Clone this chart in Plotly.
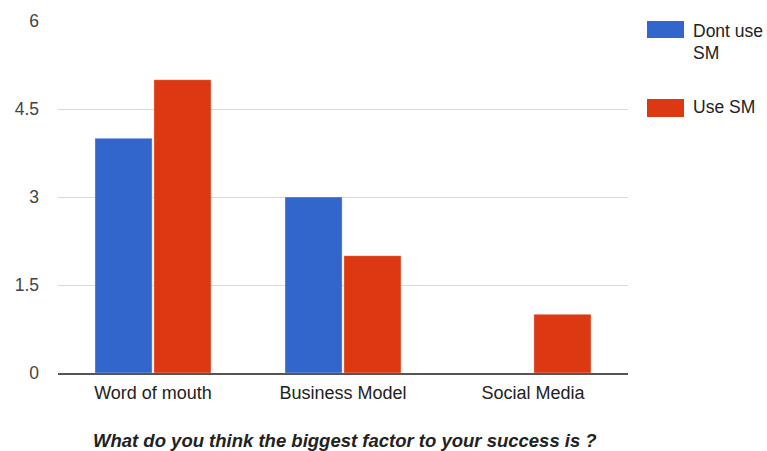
import plotly.graph_objects as go

# Survey responses grouped by the factor named as most important
categories = ["Word of mouth", "Business Model", "Social Media"]
dont_use_sm = [4, 3, 0]
use_sm = [5, 2, 1]
series_names = ["Dont use SM", "Use SM"]
y_ticks = [0, 1.5, 3, 4.5, 6]
y_tick_text = ["0", "1.5", "3", "4.5", "6"]

BLUE = "#3366CC"
RED = "#DC3912"
FONT = "Liberation Sans, Arial, sans-serif"
TEXT_SIZE = 17.5

fig = go.Figure()
fig.add_trace(go.Bar(
    x=categories, y=dont_use_sm, name=series_names[0],
    marker=dict(color=BLUE, line=dict(color="rgba(255,255,255,0.35)", width=1)),
    showlegend=False,
))
fig.add_trace(go.Bar(
    x=categories, y=use_sm, name=series_names[1],
    marker=dict(color=RED, line=dict(color="rgba(255,255,255,0.35)", width=1)),
    showlegend=False,
))

L, R, T, B = 58, 139, 21, 78
W, H = 767, 451
plot_w = W - L - R
plot_h = H - T - B


def px_x(p):
    return (p - L) / plot_w


def px_y(p):
    return (H - B - p) / plot_h


# Hand-built legend: wide colour swatches with text to the right
shapes = [
    dict(type="rect", xref="paper", yref="paper",
         x0=px_x(647), x1=px_x(684), y0=px_y(38), y1=px_y(21),
         fillcolor=BLUE, line=dict(width=0)),
    dict(type="rect", xref="paper", yref="paper",
         x0=px_x(647), x1=px_x(684), y0=px_y(117), y1=px_y(99),
         fillcolor=RED, line=dict(width=0)),
]
legend_font = dict(family=FONT, size=TEXT_SIZE, color="#222222")
annotations = [
    dict(text="Dont use", xref="paper", yref="paper", x=px_x(691), y=px_y(31),
         xanchor="left", yanchor="middle", showarrow=False, font=legend_font),
    dict(text="SM", xref="paper", yref="paper", x=px_x(691), y=px_y(53),
         xanchor="left", yanchor="middle", showarrow=False, font=legend_font),
    dict(text="Use SM", xref="paper", yref="paper", x=px_x(691), y=px_y(107),
         xanchor="left", yanchor="middle", showarrow=False, font=legend_font),
    dict(text="<b><i>What do you think the biggest factor to your success is ?</i></b>",
         xref="paper", yref="paper", x=px_x(345), y=px_y(440),
         xanchor="center", yanchor="middle", showarrow=False,
         font=dict(family=FONT, size=18.5, color="#222222")),
]

fig.update_layout(
    width=W, height=H,
    margin=dict(l=L, r=R, t=T, b=B, pad=0),
    paper_bgcolor="white", plot_bgcolor="white",
    barmode="group", bargap=0.38, bargroupgap=0.03,
    font=dict(family=FONT, size=TEXT_SIZE, color="#444444"),
    shapes=shapes, annotations=annotations,
    xaxis=dict(
        showgrid=False, showline=True, linecolor="#555555", linewidth=1.5,
        ticks="", tickfont=dict(size=18, color="#222222"),
        ticklabelstandoff=3,
        fixedrange=True,
    ),
    yaxis=dict(
        range=[0, 6], tickvals=y_ticks, ticktext=y_tick_text,
        showgrid=True, gridcolor="#D9D9D9", gridwidth=1,
        zeroline=False, showline=False, ticks="",
        tickfont=dict(size=TEXT_SIZE, color="#444444"),
        ticklabelstandoff=18,
        fixedrange=True,
    ),
)

fig.write_html("out.html")
